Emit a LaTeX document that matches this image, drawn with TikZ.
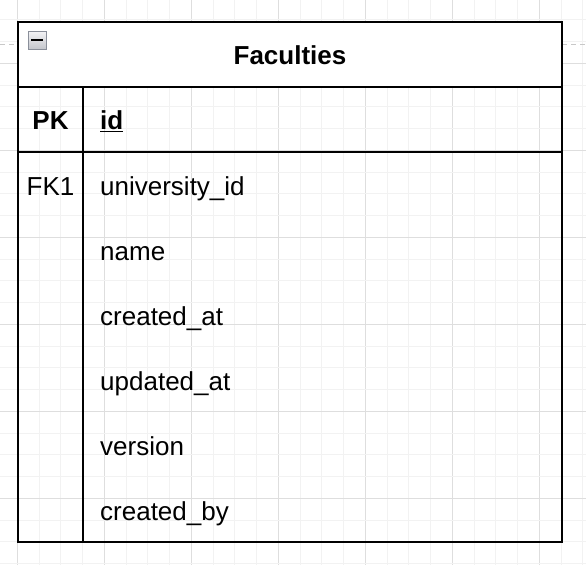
\documentclass[tikz,border=0pt]{standalone}
\usepackage{fontspec}
\setmainfont{Liberation Sans}
\definecolor{gridminor}{HTML}{F2F2F2}
\definecolor{gridmajor}{HTML}{DEDEDE}
\definecolor{pagebreak}{HTML}{C8C8C8}
\definecolor{iconborder}{HTML}{8A8F9A}
\definecolor{icontop}{HTML}{F4F4F6}
\definecolor{iconbot}{HTML}{C4C6CC}
\tikzset{
  tline/.style={line width=2.2pt, draw=black},
  celltext/.style={inner sep=0pt, font=\fontsize{26}{31}\selectfont},
}
\begin{document}
\begin{tikzpicture}[x=1pt,y=-1pt]
\useasboundingbox (0,0) rectangle (586,565);
\fill[white] (0,0) rectangle (586,565);
% grid
\foreach \k in {-1,...,26}{
  \pgfmathsetmacro{\xx}{17.3+21.75*\k}
  \pgfmathtruncatemacro{\m}{mod(\k+8,4)}
  \ifnum\m=0 \draw[gridmajor,line width=1pt] (\xx,0) -- (\xx,565);
  \else \draw[gridminor,line width=1pt] (\xx,0) -- (\xx,565); \fi
}
\foreach \k in {-3,...,23}{
  \pgfmathsetmacro{\yy}{63.3+21.75*\k}
  \pgfmathtruncatemacro{\m}{mod(\k+8,4)}
  \ifnum\m=0 \draw[gridmajor,line width=1pt] (0,\yy) -- (586,\yy);
  \else \draw[gridminor,line width=1pt] (0,\yy) -- (586,\yy); \fi
}
% page break dashes
\draw[pagebreak,line width=1pt,dash pattern=on 5pt off 4pt] (0,44.3) -- (18,44.3);
\draw[pagebreak,line width=1pt,dash pattern=on 5pt off 4pt] (562,44.3) -- (586,44.3);
% table
\coordinate (tl) at (18,22);
\coordinate (br) at (562,542);
\fill[white] (18,22) rectangle (562,87);
\draw[tline] (tl) rectangle (br);
\draw[tline] (18,87) -- (562,87);
\draw[tline] (18,152) -- (562,152);
\draw[tline] (83,87) -- (83,542);
% collapse icon
\shade[top color=icontop,bottom color=iconbot,draw=iconborder,line width=0.8pt] (28,31) rectangle (46,49);
\fill[black] (31,39) rectangle (43,41.2);
% texts
\node[celltext,font=\fontsize{26}{31}\selectfont\bfseries,anchor=base] (title) at (290,64.5) {Faculties};
\node[celltext,font=\fontsize{26}{31}\selectfont\bfseries,anchor=base] (pk) at (50.5,129.8) {PK};
\node[celltext,font=\fontsize{26}{31}\selectfont\bfseries,anchor=base west] (id) at (100,129.8) {\underline{id}};
\node[celltext,anchor=base] (fk) at (50.5,195.5) {FK1};
\node[celltext,anchor=base west] (f1) at (100,195.5) {university\_id};
\node[celltext,anchor=base west] (f2) at (100,260.5) {name};
\node[celltext,anchor=base west] (f3) at (100,325.5) {created\_at};
\node[celltext,anchor=base west] (f4) at (100,390.5) {updated\_at};
\node[celltext,anchor=base west] (f5) at (100,455.5) {version};
\node[celltext,anchor=base west] (f6) at (100,520.5) {created\_by};
\end{tikzpicture}
\end{document}
